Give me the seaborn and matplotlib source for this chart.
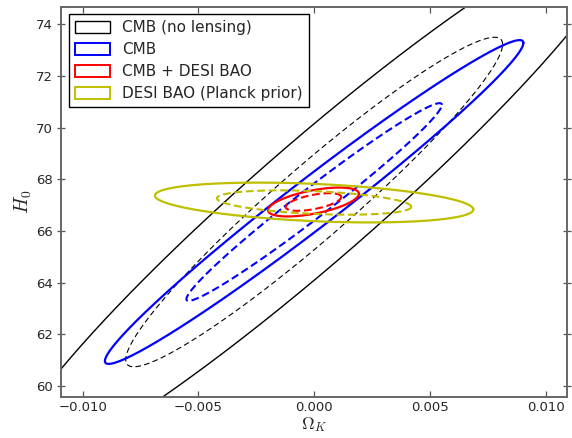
import numpy as np
import pandas as pd
import matplotlib
matplotlib.use("Agg")
import matplotlib.pyplot as plt
import seaborn as sns
from matplotlib.patches import Patch

sns.set_style("white")
plt.rcParams['font.family'] = ['DejaVu Sans']
plt.rcParams['mathtext.fontset'] = 'cm'

# ---- data ----
labels = ["CMB (no lensing)", "CMB", "CMB + DESI BAO", "DESI BAO (Planck prior)"]
colors = ["#000000", "#0000ff", "#ff0000", "#bfbf00"]
center_omk = [0.0, 0.0, -0.00003, 0.0]
center_h0 = [67.12, 67.12, 67.12, 67.10]
sigma_omk = [0.00537, 0.00364, 0.00079, 0.00277]
sigma_h0 = [4.20, 2.52, 0.225, 0.31]
corr = [0.957, 0.982, 0.57, -0.35]
levels = [2.30, 6.17]          # 1 and 2 sigma (Delta chi^2, 2 params)
level_styles = ["--", "-"]

xticks = [-0.010, -0.005, 0.000, 0.005, 0.010]
xticklabels = ["\u22120.010", "\u22120.005", "0.000", "0.005", "0.010"]
yticks = [60, 62, 64, 66, 68, 70, 72, 74]

# ---- build contour curves ----
t = np.linspace(0, 2 * np.pi, 721)
rows = []
for i, lab in enumerate(labels):
    cov = np.array([[sigma_omk[i] ** 2, corr[i] * sigma_omk[i] * sigma_h0[i]],
                    [corr[i] * sigma_omk[i] * sigma_h0[i], sigma_h0[i] ** 2]])
    L = np.linalg.cholesky(cov)
    for lev in levels:
        pts = L @ np.vstack([np.cos(t), np.sin(t)]) * np.sqrt(lev)
        rows.append(pd.DataFrame({"omk": pts[0] + center_omk[i],
                                  "h0": pts[1] + center_h0[i],
                                  "set": lab, "level": lev}))
df = pd.concat(rows, ignore_index=True)

fig = plt.figure(figsize=(5.72, 4.38), dpi=100)
ax = fig.add_axes([0.1066, 0.0935, 0.8852, 0.8912])

lw_solid = [1.0, 1.6, 1.6, 1.6]
lw_dash = [0.8, 1.5, 1.5, 1.5]
for i, lab in enumerate(labels):
    for lev, ls in zip(levels, level_styles):
        sub = df[(df["set"] == lab) & (df["level"] == lev)]
        lw = lw_solid[i] if ls == "-" else lw_dash[i]
        sns.lineplot(data=sub, x="omk", y="h0", sort=False, estimator=None,
                     ax=ax, legend=False, linewidth=lw, color=colors[i])
        ln = ax.lines[-1]
        if ls == "--":
            ln.set_dashes((5, 3) if i == 0 else (3.7, 1.8))

ax.set_xlim(-0.01094, 0.01094)
ax.set_ylim(59.58, 74.67)
ax.set_xticks(xticks)
ax.set_yticks(yticks)
ax.set_xticklabels(xticklabels)
ax.set_xlabel(r"$\Omega_K$", fontsize=12.5, labelpad=0.5)
ax.set_ylabel(r"$H_0$", fontsize=14, labelpad=1)

for sp in ax.spines.values():
    sp.set_color("#666666")
    sp.set_linewidth(1.4)
ax.tick_params(axis="x", direction="in", length=4, width=0.9, color="#555555",
               labelsize=9.5, top=True, bottom=True, pad=3)
ax.tick_params(axis="y", direction="inout", length=6, width=0.9, color="#555555",
               labelsize=9.5, left=True, right=True, pad=3)

handles = [Patch(facecolor="none", edgecolor=c, linewidth=1.4 if c != "#000000" else 1.0)
           for c in colors]
leg = ax.legend(handles, labels, loc="upper left", fontsize=11, frameon=True,
                fancybox=False, edgecolor="#000000", framealpha=1,
                handlelength=2.3, handleheight=0.8, labelspacing=0.45,
                borderaxespad=0.5, handletextpad=0.8)
leg.get_frame().set_linewidth(1.0)

fig.savefig("out.png", dpi=100)
